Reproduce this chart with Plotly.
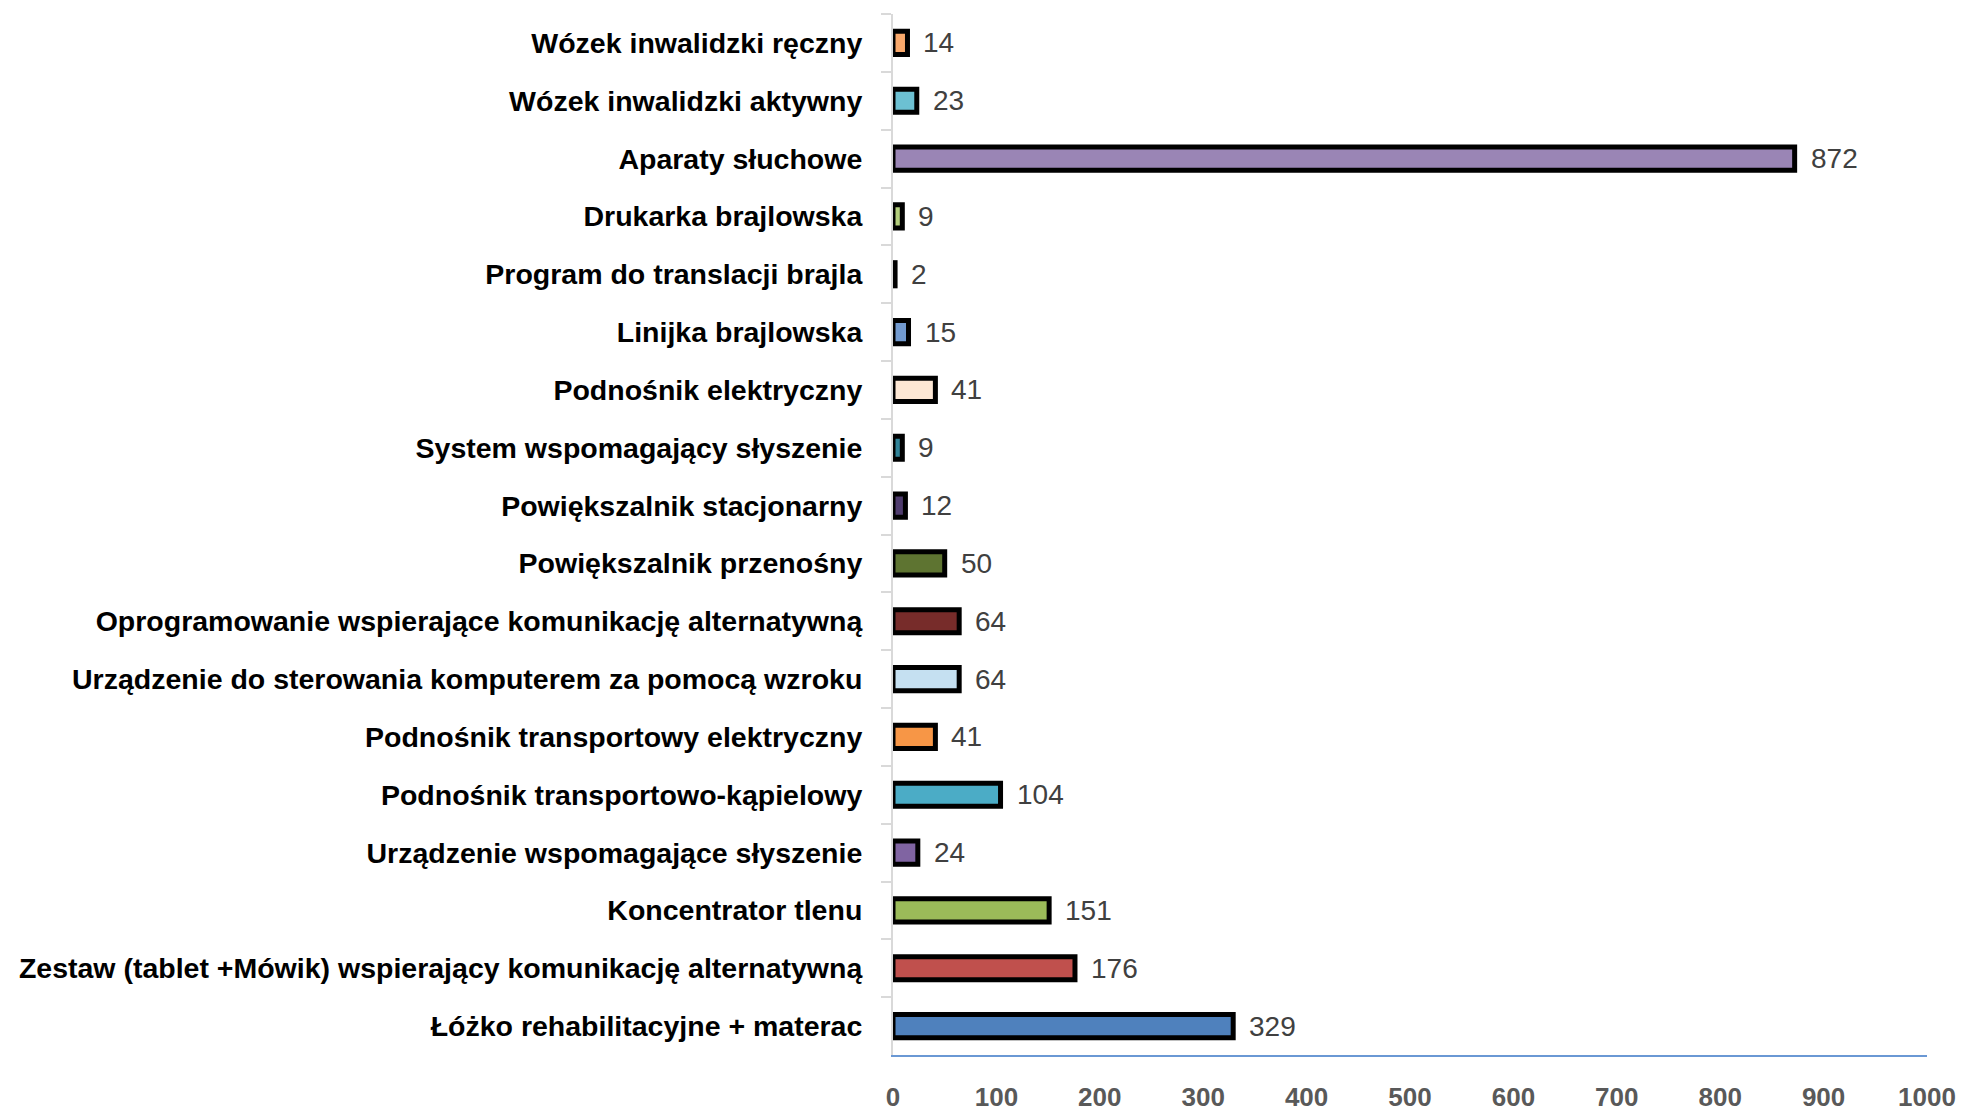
import plotly.graph_objects as go

# Device categories, listed top to bottom as they appear on the chart
categories = [
    "Wózek inwalidzki ręczny",
    "Wózek inwalidzki aktywny",
    "Aparaty słuchowe",
    "Drukarka brajlowska",
    "Program do translacji brajla",
    "Linijka brajlowska",
    "Podnośnik elektryczny",
    "System wspomagający słyszenie",
    "Powiększalnik stacjonarny",
    "Powiększalnik przenośny",
    "Oprogramowanie wspierające komunikację alternatywną",
    "Urządzenie do sterowania komputerem za pomocą wzroku",
    "Podnośnik transportowy elektryczny",
    "Podnośnik transportowo-kąpielowy",
    "Urządzenie wspomagające słyszenie",
    "Koncentrator tlenu",
    "Zestaw (tablet +Mówik) wspierający komunikację alternatywną",
    "Łóżko rehabilitacyjne + materac",
]

counts = [14, 23, 872, 9, 2, 15, 41, 9, 12, 50, 64, 64, 41, 104, 24, 151, 176, 329]

bar_colors = [
    "#F9A86B", "#6CC0D2", "#9A85B5", "#B3CE7C", "#2F2F2F", "#729ACF",
    "#FDE7D4", "#2F8297", "#4E3B6D", "#5E7431", "#772C2A", "#C5E0F1",
    "#F79646", "#4BACC6", "#8064A2", "#9BBB59", "#C0504D", "#4F81BD",
]

x_ticks = [0, 100, 200, 300, 400, 500, 600, 700, 800, 900, 1000]

FONT = "Liberation Sans, Arial, sans-serif"

fig = go.Figure()
fig.add_trace(go.Bar(
    x=counts,
    y=categories,
    orientation="h",
    width=0.4,
    marker=dict(color=bar_colors, line=dict(color="#000000", width=5)),
    hoverinfo="x+y",
))

# Value labels just past each bar end
for cat, val in zip(categories, counts):
    fig.add_annotation(
        x=val, y=cat, text=str(val), showarrow=False,
        xanchor="left", yanchor="middle", xshift=14,
        font=dict(family=FONT, size=28, color="#404040"),
    )

fig.update_layout(
    width=1964, height=1112,
    margin=dict(l=893, r=37, t=14, b=57, autoexpand=False),
    paper_bgcolor="white", plot_bgcolor="white",
    showlegend=False,
    bargap=0.6,
)

fig.update_xaxes(
    range=[0, 1000], automargin=False,
    tickmode="array", tickvals=x_ticks, ticktext=[str(t) for t in x_ticks],
    showgrid=False, zeroline=False,
    showline=True, linecolor="#6A98D4", linewidth=2,
    ticks="outside", ticklen=18, tickcolor="rgba(0,0,0,0)",
    tickfont=dict(family=FONT, size=26, color="#595959", weight="bold"),
)

fig.update_yaxes(
    autorange=False, range=[len(categories) - 0.5, -0.5], automargin=False,
    showgrid=False, zeroline=False,
    showline=True, linecolor="#D9D9D9", linewidth=2,
    ticks="outside", tickson="boundaries", ticklen=10,
    tickcolor="#D9D9D9", tickwidth=2,
    ticklabelstandoff=23,
    tickfont=dict(family=FONT, size=28.5, color="#000000", weight="bold"),
)

fig.write_html("out.html")
